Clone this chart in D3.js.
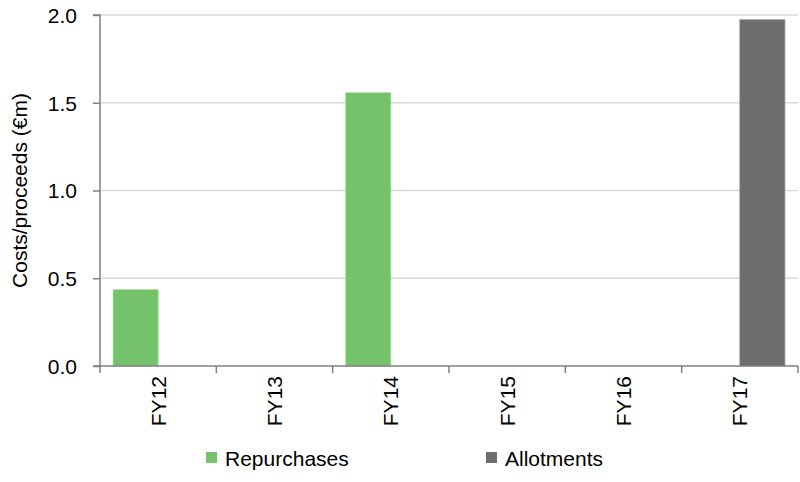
<!DOCTYPE html>
<html><head><meta charset="utf-8">
<script src="https://cdn.jsdelivr.net/npm/d3@7"></script>
<style>body{margin:0;background:#fff}svg{display:block}text{font-family:"Liberation Sans",Arial,sans-serif;fill:#000}</style>
</head><body><svg id="c" width="800" height="482"></svg>
<script>
const categories = ["FY12","FY13","FY14","FY15","FY16","FY17"];
const seriesNames = ["Repurchases","Allotments"];
const repurchases = [0.435, 0, 1.557, 0, 0, 0];
const allotments = [0, 0, 0, 0, 0, 1.973];
const yTicks = [0, 0.5, 1.0, 1.5, 2.0];
const colors = ["#74c26a", "#6d6d6d"];

(function(){
const svg = d3.select("#c");
const mLeft = 100, mRight = 798, mTop = 15, mBottom = 366;
const x = d3.scaleBand().domain(categories).range([mLeft, mRight]).paddingInner(0).paddingOuter(0);
const xs = d3.scaleBand().domain(seriesNames).range([0, x.bandwidth()]).paddingInner(0).paddingOuter(0.29);
const y = d3.scaleLinear().domain([0, 2]).range([mBottom, mTop]);

// gridlines
svg.append("g").selectAll("line").data(yTicks.filter(d => d > 0)).join("line")
  .attr("x1", mLeft).attr("x2", mRight).attr("y1", d => y(d)).attr("y2", d => y(d))
  .attr("stroke", "#d9d9d9").attr("stroke-width", 1.5);

const data = [repurchases, allotments];
seriesNames.forEach((s, i) => {
  svg.append("g").selectAll("rect").data(categories.map((c, j) => ({c, v: data[i][j]})).filter(d => d.v > 0)).join("rect")
    .attr("x", d => x(d.c) + xs(s)).attr("width", xs.bandwidth())
    .attr("y", d => y(d.v)).attr("height", d => y(0) - y(d.v))
    .attr("fill", colors[i])
    .attr("stroke", i === 0 ? "#a6dc9c" : "#9a9a9a").attr("stroke-width", 0.8);
});

// y axis
const yAxis = svg.append("g").attr("transform", `translate(${mLeft},0)`)
  .call(d3.axisLeft(y).tickValues(yTicks).tickFormat(d3.format(".1f")).tickSize(7).tickPadding(16));
yAxis.select(".domain").attr("stroke", "#808080").attr("stroke-width", 1.5).attr("d", `M-7,${mTop}H0V${mBottom}H-7`);
yAxis.selectAll(".tick line").attr("stroke", "#808080").attr("stroke-width", 1.5);
yAxis.selectAll(".tick text").style("font-size", "21px").attr("dy", "0.35em");

// x axis
const xAxis = svg.append("g").attr("transform", `translate(0,${mBottom})`);
xAxis.append("line").attr("x1", mLeft).attr("x2", mRight).attr("stroke", "#808080").attr("stroke-width", 1.5);
const bounds = categories.map(c => x(c)).concat([mRight]);
xAxis.selectAll("line.t").data(bounds).join("line").attr("class", "t")
  .attr("x1", d => d).attr("x2", d => d).attr("y1", 0).attr("y2", 7)
  .attr("stroke", "#808080").attr("stroke-width", 1.5);
xAxis.selectAll("text").data(categories).join("text")
  .attr("transform", d => `translate(${x(d) + x.bandwidth()/2 + 7.5},10) rotate(-90)`)
  .attr("text-anchor", "end").style("font-size", "21px").text(d => d);

// y title
svg.append("text").attr("transform", `translate(27,${(mTop + mBottom)/2}) rotate(-90)`)
  .attr("text-anchor", "middle").style("font-size", "21px").text("Costs/proceeds (€m)");

// legend
const legX = [206, 486];
seriesNames.forEach((s, i) => {
  svg.append("rect").attr("x", legX[i]).attr("y", 452).attr("width", 11).attr("height", 11).attr("fill", colors[i]);
  svg.append("text").attr("x", legX[i] + 19).attr("y", 465.5).style("font-size", "21px").text(s);
});
})();
</script></body></html>
